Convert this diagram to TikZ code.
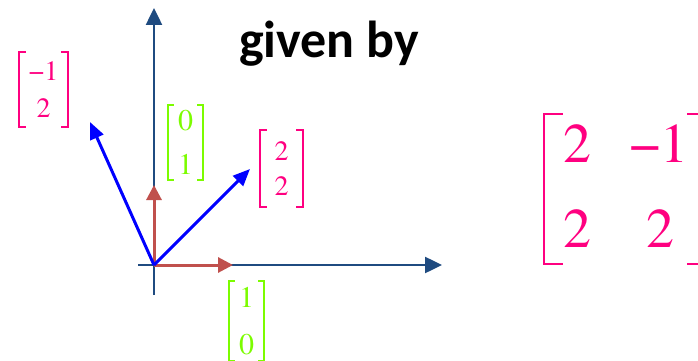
\documentclass[tikz,border=0pt]{standalone}
\usepackage{fontspec}
\setmainfont{TeX Gyre Termes}
\newfontfamily\entryfont{TeX Gyre Termes}
\newfontfamily\headfont{Carlito}
\usetikzlibrary{arrows.meta}

\definecolor{axisblue}{RGB}{31,75,128}
\definecolor{vecred}{RGB}{192,80,77}
\definecolor{vecblue}{RGB}{0,0,255}
\definecolor{entrypink}{RGB}{255,0,128}
\definecolor{entrygreen}{RGB}{124,252,0}

% square brackets around a node: node name, colour, serif length, line width
\newcommand\drawbrackets[4]{%
  \draw[#2,line width=#4] ([xshift=#3]#1.north west) -- (#1.north west) -- (#1.south west) -- ([xshift=#3]#1.south west);
  \draw[#2,line width=#4] ([xshift=-#3]#1.north east) -- (#1.north east) -- (#1.south east) -- ([xshift=-#3]#1.south east);}

\begin{document}
\begin{tikzpicture}[x=1pt,y=-1pt,
  axis/.style={draw=axisblue,line width=2.5pt,-{Triangle[width=16pt,length=17pt]}},
  basisvec/.style={draw=vecred,line width=3pt,-{Triangle[width=15pt,length=15pt]}},
  imagevec/.style={draw=vecblue,line width=3pt,-{Triangle[width=14pt,length=17pt]}},
  colvec/.style n args={2}{inner sep=0pt,align=center,font=\entryfont\fontsize{#1}{#2}\selectfont},
  bigentry/.style={inner sep=0pt,text=entrypink,font=\entryfont\fontsize{56}{60}\selectfont}
]
\useasboundingbox (0,0) rectangle (698,361);

% axes
\coordinate (O) at (154,265);
\coordinate (xstart) at (138,265);
\coordinate (xend) at (442,265);
\coordinate (ystart) at (154,295);
\coordinate (yend) at (154,8);
\draw[axis] (xstart) -- (xend);
\draw[axis] (ystart) -- (yend);

% basis vectors
\coordinate (e1) at (233,265);
\coordinate (e2) at (154,185);
\draw[basisvec] (O) -- (e1);
\draw[basisvec] (O) -- (e2);

% images of the basis vectors
\coordinate (w1) at (250,169);
\coordinate (w2) at (90,122);
\draw[imagevec] (O) -- (w1);
\draw[imagevec] (O) -- (w2);

% heading
\node[font=\headfont\bfseries\fontsize{52}{60}\selectfont,anchor=base] (title) at (329,58) {given by};

% column vectors
\node[colvec={28}{37.5},text=entrypink,minimum width=49pt,minimum height=75pt] (v1) at (43.5,89.5) {−1\\2};
\drawbrackets{v1}{entrypink}{7pt}{2pt}
\node[colvec={30}{44},text=entrygreen,minimum width=35pt,minimum height=75pt] (v2) at (185.5,142.5) {0\\1};
\drawbrackets{v2}{entrygreen}{6pt}{2pt}
\node[colvec={28}{35},text=entrypink,minimum width=43pt,minimum height=77pt] (v3) at (281.5,168.5) {2\\2};
\drawbrackets{v3}{entrypink}{7pt}{2pt}
\node[colvec={30}{47},text=entrygreen,minimum width=35pt,minimum height=80pt] (v4) at (246.5,321) {1\\0};
\drawbrackets{v4}{entrygreen}{6pt}{2pt}

% transformation matrix
\node[inner sep=0pt,minimum width=162pt,minimum height=150pt] (A) at (625,189) {};
\drawbrackets{A}{entrypink}{19pt}{2.5pt}
\node[bigentry] (a11) at (577.5,144) {2};
\node[bigentry] (a12) at (659,144) {−1};
\node[bigentry] (a21) at (577.5,229) {2};
\node[bigentry] (a22) at (660.5,229) {2};
\end{tikzpicture}
\end{document}
